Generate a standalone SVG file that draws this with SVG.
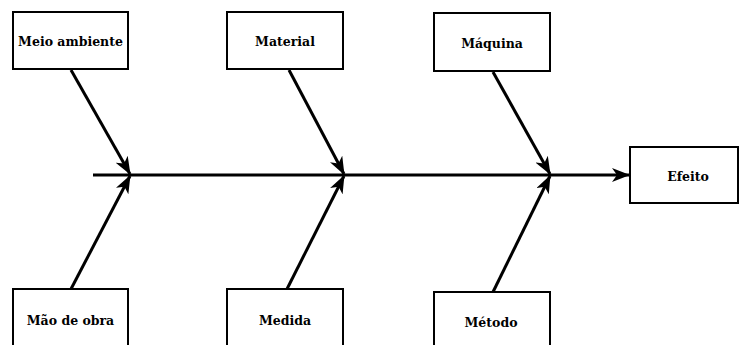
<svg xmlns="http://www.w3.org/2000/svg" width="739" height="345" viewBox="0 0 739 345">
  <style>
    .box { fill: #ffffff; stroke: #000000; stroke-width: 2; }
    .label { font-family: "DejaVu Serif", serif; font-weight: 700; font-size: 12.5px; fill: #000000; text-anchor: middle; }
    .bone { stroke: #000000; stroke-width: 3; fill: none; marker-end: url(#arrow); }
  </style>
  <defs>
    <marker id="arrow" viewBox="0 0 18 14" refX="17" refY="7" markerWidth="18" markerHeight="14" markerUnits="userSpaceOnUse" orient="auto">
      <path d="M0,0 L18,7 L0,14 L5,7 z" fill="#000000"/>
    </marker>
  </defs>
  <rect width="739" height="345" fill="#ffffff"/>

  <!-- spine and the six cause bones -->
  <g id="connectors">
    <line class="bone" x1="93" y1="175" x2="629" y2="175"/>
    <line class="bone" x1="71" y1="70" x2="130" y2="174"/>
    <line class="bone" x1="289" y1="70" x2="344" y2="174"/>
    <line class="bone" x1="493" y1="72" x2="550" y2="174"/>
    <line class="bone" x1="71" y1="289" x2="130" y2="176"/>
    <line class="bone" x1="287" y1="289" x2="344" y2="176"/>
    <line class="bone" x1="493" y1="292" x2="550" y2="176"/>
  </g>

  <g id="meio-ambiente">
    <rect class="box" x="13" y="12" width="115" height="57"/>
    <text class="label" x="70.5" y="46">Meio ambiente</text>
  </g>
  <g id="material">
    <rect class="box" x="227" y="12" width="116" height="57"/>
    <text class="label" x="285" y="46">Material</text>
  </g>
  <g id="maquina">
    <rect class="box" x="434" y="13" width="116" height="58"/>
    <text class="label" x="492" y="48">Máquina</text>
  </g>
  <g id="efeito">
    <rect class="box" x="630" y="147" width="108" height="56"/>
    <text class="label" x="688" y="181">Efeito</text>
  </g>
  <g id="mao-de-obra">
    <rect class="box" x="13" y="289" width="115" height="70"/>
    <text class="label" x="70.5" y="325">Mão de obra</text>
  </g>
  <g id="medida">
    <rect class="box" x="227" y="289" width="116" height="70"/>
    <text class="label" x="285" y="325">Medida</text>
  </g>
  <g id="metodo">
    <rect class="box" x="434" y="292" width="116" height="70"/>
    <text class="label" x="491" y="327">Método</text>
  </g>
</svg>
